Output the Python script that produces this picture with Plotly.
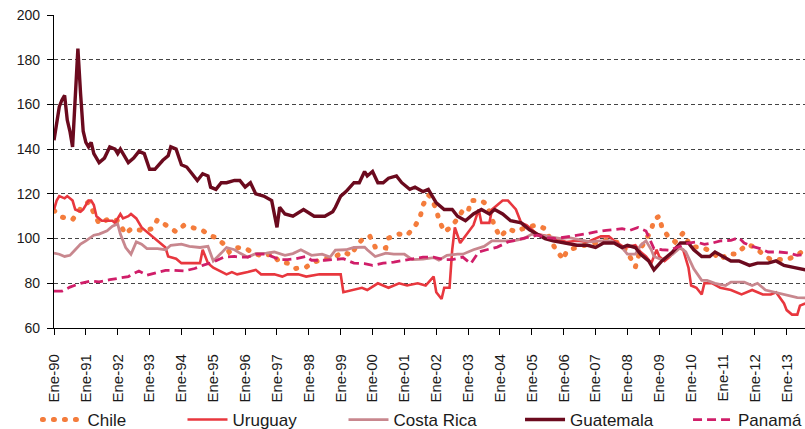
import plotly.graph_objects as go

# months counted from Ene-90 (0 = Jan 1990)
tick_labels = ["Ene-90", "Ene-91", "Ene-92", "Ene-93", "Ene-94", "Ene-95", "Ene-96", "Ene-97",
               "Ene-98", "Ene-99", "Ene-00", "Ene-01", "Ene-02", "Ene-03", "Ene-04", "Ene-05",
               "Ene-06", "Ene-07", "Ene-08", "Ene-09", "Ene-10", "Ene-11", "Ene-12", "Ene-13"]

chile_m = [0, 3, 7, 10, 13, 15, 17, 21, 24, 27, 29, 34, 37, 39, 42, 46, 49, 52, 56, 59, 61, 64, 66, 68,
           72, 75, 79, 82, 85, 88, 91, 95, 98, 102, 106, 109, 112, 114, 117, 119, 121, 125, 126, 130,
           133, 136, 138, 139, 141, 142, 144, 145, 147, 150, 152, 154, 156, 157, 161, 163, 166, 168,
           171, 174, 178, 182, 185, 189, 192, 193, 197, 201, 204, 208, 210, 214, 217, 219, 221, 225,
           226, 228, 229, 231, 234, 237, 240, 244, 248, 251, 254, 257, 261, 264, 267, 270, 273, 276,
           280, 283]
chile = [112.6, 109.6, 108.5, 113.4, 116.4, 111, 106.7, 109, 108, 102, 104.4, 103.5, 104.4, 108.5, 106,
         103, 106, 105, 103.6, 101.2, 100.5, 97.5, 94, 96, 95.8, 93.5, 92, 93.3, 89.5, 89, 86.6, 87.3,
         89.5, 91, 92, 94, 92.5, 97, 100.7, 101, 96.2, 95.8, 100.2, 102, 101.5, 105.5, 110, 115, 119.5,
         118.6, 113, 108.5, 103, 105.5, 109.6, 112.6, 112, 117, 117, 115.3, 105.5, 100.7, 104.4, 103,
         105.2, 106, 104.4, 95, 90.6, 94.3, 96.2, 97.4, 98.5, 99.2, 99.2, 97.4, 91.7, 87.3, 95.5, 103.7,
         108.5, 110, 105, 101.5, 98.5, 102.5, 96.2, 96.2, 94, 90.6, 93.3, 93, 97.4, 96.2, 93, 90.6, 90.6,
         90.6, 92.5, 95.5]

uru_m = [0, 1, 2, 4, 5, 7, 8, 10, 11, 13, 14, 15, 16, 18, 20, 22, 23, 25, 26, 28, 29, 31, 33, 35, 37,
         40, 42, 43, 46, 48, 50, 53, 55, 56, 58, 60, 63, 65, 67, 69, 73, 76, 78, 83, 86, 88, 92, 95, 100,
         105, 108, 109, 112, 116, 118, 122, 126, 130, 133, 137, 140, 143, 144, 146, 147, 149, 150, 151,
         153, 155, 158, 160, 161, 164, 165, 169, 171, 174, 176, 178, 182, 186, 189, 193, 197, 201, 206,
         209, 211, 215, 219, 221, 223, 225, 227, 228, 230, 232, 235, 237, 239, 240, 242, 244, 245, 248,
         251, 255, 259, 263, 267, 270, 272, 275, 276, 278, 280, 281, 283]
uruguay = [113, 117, 119, 118, 119, 117, 113, 112, 113, 117, 117, 115, 110, 108, 108, 108, 107, 111, 109,
           110, 111, 109, 105, 103, 101, 98, 96, 92, 91, 89, 89, 89, 89, 95, 89, 87, 85, 84, 85, 84, 85,
           86, 84, 84, 83, 84, 84, 83, 84, 84, 84, 76, 77, 78, 77, 80, 78, 80, 79, 80, 79, 83, 76, 73, 78,
           78, 95, 105, 98, 101, 106, 113, 107, 107, 113, 117, 117, 113, 107, 106, 102, 101, 100, 98.5,
           99, 98.5, 101, 101, 99, 96, 97, 94, 92, 89, 95, 92, 90, 92, 96, 95, 87, 79, 78, 75, 80, 80, 78,
           77, 75, 77, 75, 75, 76, 71, 68, 66, 66, 70, 71]

cr_m = [0, 2, 4, 6, 8, 10, 12, 15, 17, 20, 22, 24, 25, 27, 29, 31, 33, 35, 39, 42, 44, 48, 51, 55, 58,
        60, 63, 65, 68, 70, 73, 76, 80, 83, 87, 90, 93, 97, 101, 104, 106, 110, 113, 117, 118, 121, 125,
        128, 132, 135, 139, 143, 145, 148, 152, 154, 158, 162, 165, 169, 173, 177, 180, 183, 187, 191,
        194, 198, 202, 206, 210, 214, 216, 219, 221, 223, 225, 226, 229, 233, 236, 238, 241, 244, 246,
        249, 253, 255, 260, 263, 265, 268, 273, 277, 280, 283]
costa_rica = [93.5, 93, 92, 92.5, 95, 97.5, 99, 101.5, 102, 103.5, 105.5, 106.5, 102, 96, 93, 98.5, 97.5,
              95.5, 95.5, 95, 97, 97.5, 96.5, 96, 96.5, 90, 93.5, 96, 95, 93.5, 91.7, 93.3, 93.5, 94,
              92.5, 93.3, 95, 92.5, 93, 91.7, 94.8, 95, 96, 96.2, 95, 92, 93.5, 93, 93, 90.6, 90.8, 91.5,
              90.3, 92.5, 93, 93, 95, 96.5, 99, 99, 99, 100, 102, 101.5, 100.7, 100, 100.4, 99.5, 98.5, 99,
              99, 96, 93, 93, 97, 99, 95, 92, 90.5, 93, 96, 94, 86.5, 81.3, 81.3, 80, 79, 80.5, 80.5, 79,
              80, 77, 75.7, 74.6, 73.6, 73.5]

gt_m = [0, 1, 2, 3, 4, 5, 6, 7, 8, 9, 10, 11, 12, 13, 14, 15, 17, 19, 21, 23, 24, 25, 28, 30, 32, 34, 36,
        38, 41, 43, 44, 46, 48, 50, 52, 54, 56, 58, 59, 61, 63, 65, 68, 70, 72, 74, 76, 79, 82, 83, 84,
        85, 87, 90, 94, 98, 102, 105, 106, 108, 110, 113, 115, 117, 118, 120, 122, 124, 126, 129, 131,
        134, 136, 139, 141, 144, 147, 150, 152, 155, 158, 161, 164, 166, 169, 172, 176, 179, 182, 185,
        188, 192, 197, 201, 204, 207, 211, 214, 216, 219, 221, 224, 226, 229, 233, 236, 239, 241, 244,
        247, 249, 252, 255, 258, 262, 265, 269, 272, 275, 279, 283]
guatemala = [144, 152, 159, 162, 164, 153, 148, 141, 160, 185, 165, 148, 143, 141, 143, 138, 134, 136,
             141, 140, 138, 140, 134, 136, 139, 138, 131, 131, 135, 137, 141, 140, 133, 132, 129, 126, 129,
             128, 123, 122, 125, 125, 126, 126, 123, 125, 120, 119, 117, 111, 105, 114, 111, 110, 113, 110,
             110, 112, 114, 119, 121, 125, 125, 130, 128, 130, 125, 125, 127, 128, 125, 122, 123, 121, 122,
             116, 113, 113, 110, 108, 111, 113, 111, 113, 111, 108, 107, 104, 102, 100, 99, 98, 97, 97, 96,
             98, 98, 96, 97, 96, 93, 90, 86, 90, 94, 98, 98, 95, 92, 92, 94, 92, 90, 90, 88, 89, 89, 90, 88,
             87, 86]

pa_m = [0, 3, 6, 10, 14, 17, 21, 25, 28, 30, 32, 35, 39, 42, 45, 49, 53, 56, 60, 64, 68, 70, 73, 76, 80,
        82, 85, 88, 91, 95, 97, 102, 106, 109, 113, 117, 120, 124, 128, 132, 135, 139, 143, 147, 150, 154,
        157, 160, 163, 167, 171, 174, 178, 182, 186, 189, 193, 197, 201, 204, 208, 214, 217, 220, 223,
        224, 225, 226, 229, 232, 235, 239, 242, 245, 248, 251, 255, 258, 260, 263, 266, 269, 273, 277,
        280, 283]
panama = [76.5, 76.5, 78.3, 80, 81, 80.6, 81.6, 82.5, 83, 84.3, 85.5, 83.6, 85, 85.8, 85.8, 85.5, 86.6, 88,
          89.5, 91.7, 92, 91.7, 91.7, 93, 93, 92, 90.6, 90.6, 91, 92, 90.3, 90.3, 90.6, 91, 89, 88.8, 88,
          89, 89.5, 90.3, 90.6, 91.7, 91.7, 90.6, 90.6, 91.7, 88.8, 94, 95, 96.2, 98.5, 99.2, 100.4, 101.5,
          100.4, 100, 100.7, 101.5, 102.2, 103, 103.7, 104.4, 103.7, 105, 103.4, 100.7, 97.7, 95.5, 95,
          94.8, 96.2, 98, 98.5, 97.4, 98, 99, 99.2, 100.4, 98, 96.5, 95.5, 94, 94, 93.5, 92.5, 93]

fig = go.Figure()
fig.add_trace(go.Scatter(x=chile_m, y=chile, name="Chile", mode="lines", legend="legend",
                         line=dict(color="#F47C3C", width=5, dash="1px,10px")))
fig.add_trace(go.Scatter(x=uru_m, y=uruguay, name="Uruguay", mode="lines", legend="legend2",
                         line=dict(color="#E8373E", width=2.6)))
fig.add_trace(go.Scatter(x=cr_m, y=costa_rica, name="Costa Rica", mode="lines", legend="legend3",
                         line=dict(color="#C8878E", width=2.8)))
fig.add_trace(go.Scatter(x=gt_m, y=guatemala, name="Guatemala", mode="lines", legend="legend4",
                         line=dict(color="#6B0A1E", width=3.4)))
fig.add_trace(go.Scatter(x=pa_m, y=panama, name="Panamá", mode="lines", legend="legend5",
                         line=dict(color="#D01E69", width=2.8, dash="9px,5px")))

# one legend per series so each entry sits where it does in the original
legend_x = [0.0465, 0.2267, 0.4267, 0.646, 0.8547]
leg_style = dict(orientation="h", xref="container", yref="container", xanchor="left",
                 y=0.021, yanchor="middle", font=dict(size=17), itemwidth=40,
                 bgcolor="rgba(0,0,0,0)")
fig.update_layout(
    width=805, height=429,
    margin=dict(l=54, r=0, t=15, b=101, autoexpand=False),
    paper_bgcolor="white", plot_bgcolor="white",
    font=dict(family="Liberation Sans, Arial, sans-serif", color="#1a1a1a", size=14),
    showlegend=True,
    legend=dict(x=legend_x[0], **leg_style),
    legend2=dict(x=legend_x[1], **leg_style),
    legend3=dict(x=legend_x[2], **leg_style),
    legend4=dict(x=legend_x[3], **leg_style),
    legend5=dict(x=legend_x[4], **leg_style),
)
fig.update_xaxes(
    range=[0, 282.9], tickmode="array",
    tickvals=[12 * i for i in range(len(tick_labels))], ticktext=tick_labels,
    tickangle=-90, ticks="outside", ticklen=6, tickcolor="black",
    showline=True, linecolor="black", linewidth=1.3, showgrid=False, zeroline=False,
    tickfont=dict(size=15), ticklabelstandoff=13, automargin=False,
)
fig.update_yaxes(
    range=[60, 200], dtick=20, tick0=60, ticks="outside", ticklen=6, tickcolor="black",
    showline=True, linecolor="black", linewidth=1.3,
    showgrid=True, gridcolor="#444444", gridwidth=1, griddash="4px,3px", zeroline=False,
    tickfont=dict(size=14), ticklabelstandoff=4, automargin=False,
)

# no page margin; round caps so the Chile dash pattern draws as dots
post = """
document.body.style.margin = '0';
var gd = document.getElementById('{plot_id}');
function roundDots(){
  gd.querySelectorAll('path.js-line').forEach(function(p){
    var d = p.style.strokeDasharray || '';
    if (d.indexOf('1px') === 0) { p.style.strokeLinecap = 'round'; }
  });
}
roundDots();
gd.on('plotly_afterplot', roundDots);
"""
fig.write_html("out.html", post_script=post, config={"displayModeBar": False})
